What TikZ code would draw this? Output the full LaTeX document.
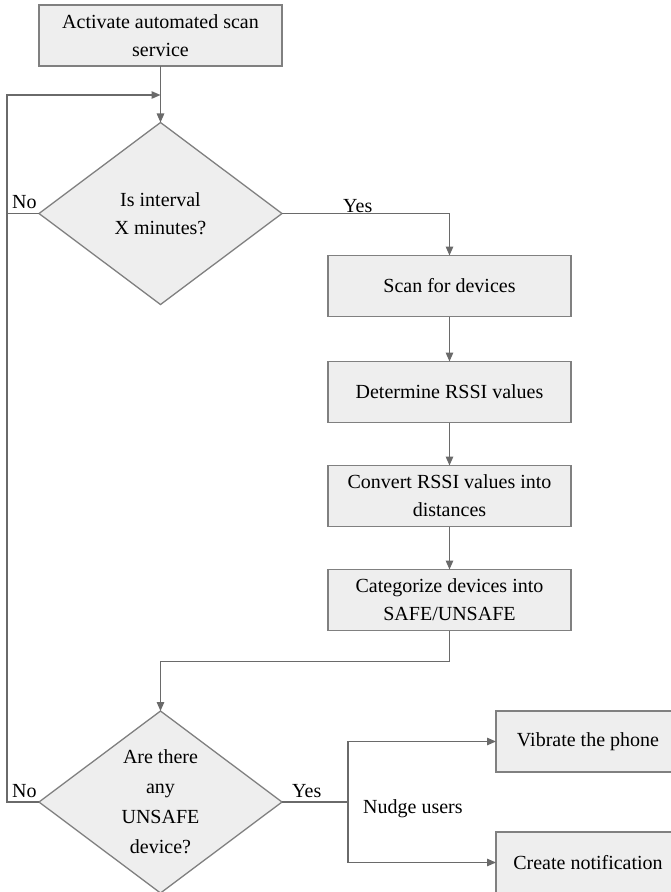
\documentclass[tikz,border=0pt]{standalone}
\usepackage{fontspec}
\setmainfont{Liberation Serif}
\usetikzlibrary{positioning,arrows.meta,shapes.geometric}
\definecolor{borde}{HTML}{808080}
\definecolor{relleno}{HTML}{EEEEEE}
\definecolor{trazo}{HTML}{6A6A6A}
\tikzset{
  paso/.style={draw=borde,fill=relleno,line width=1.3pt,minimum width=243pt,minimum height=61pt,inner sep=0pt,outer sep=0pt,align=center},
  rombo/.style={diamond,draw=borde,fill=relleno,line width=1.3pt,minimum width=243pt,minimum height=182pt,inner sep=0pt,outer sep=0pt,align=center},
  linea/.style={draw=trazo,line width=1.3pt},
  flecha/.style={linea,-{Triangle[length=9pt,width=7.5pt]}},
  rotulo/.style={anchor=base west,inner sep=0pt},
}
\begin{document}
\begin{tikzpicture}[x=1pt,y=-1pt,font=\fontsize{20}{28}\selectfont]
  \useasboundingbox (0,0) rectangle (671,892);
  \clip (0,0) rectangle (671,892);
  % columna izquierda
  \node[paso] (inicio) at (160.5,35.5) {Activate automated scan\\service};
  \node[rombo] (intervalo) at (160.5,213.5) {Is interval\\X minutes?};
  % columna derecha
  \node[paso] (escanear) at (449.5,286) {Scan for devices};
  \node[paso,below=45pt of escanear] (rssi) {Determine RSSI values};
  \node[paso,below=43pt of rssi] (distancia) {Convert RSSI values into\\distances};
  \node[paso,below=43pt of distancia] (categorizar) {Categorize devices into\\SAFE/UNSAFE};
  \node[rombo,font=\fontsize{20}{30}\selectfont] (alerta) at (160.5,802) {Are there\\any\\UNSAFE\\device?};
  \node[paso,minimum width=184pt,anchor=west] (vibrar) at (496,741.5) {Vibrate the phone};
  \node[paso,minimum width=184pt,anchor=west] (notificar) at (496,862.5) {Create notification};
  \coordinate (retorno) at (7,95);
  \coordinate (reparto) at (348,802);
  % conexiones
  \draw[flecha] (inicio) -- (intervalo);
  \draw[flecha] (intervalo.east) -| (escanear.north);
  \draw[flecha] (escanear) -- (rssi);
  \draw[flecha] (rssi) -- (distancia);
  \draw[flecha] (distancia) -- (categorizar);
  \draw[flecha] (categorizar.south) -- ++(0,31) -| (alerta.north);
  \draw[flecha] (alerta.west) -| (retorno) -- (retorno -| inicio.south);
  \draw[linea] (intervalo.west) -- (intervalo.west -| retorno);
  \draw[linea] (alerta.east) -- (reparto);
  \draw[flecha] (reparto) |- (vibrar.west);
  \draw[flecha] (reparto) |- (notificar.west);
  % rotulos
  \node[rotulo] (no1) at (12,208) {No};
  \node[rotulo] (si1) at (343,212) {Yes};
  \node[rotulo] (no2) at (12,797) {No};
  \node[rotulo] (si2) at (292,797) {Yes};
  \node[rotulo] (avisar) at (363,813) {Nudge users};
\end{tikzpicture}
\end{document}
